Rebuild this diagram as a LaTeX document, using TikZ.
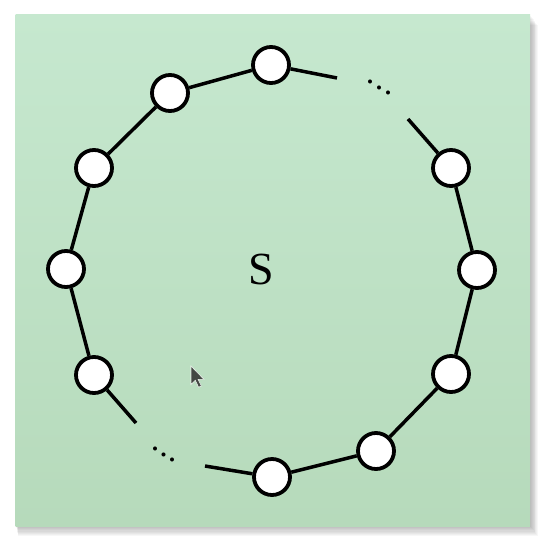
\documentclass[tikz,border=0pt]{standalone}
\usepackage{fontspec}
\setmainfont{Liberation Serif}
\definecolor{papertop}{HTML}{C6E8CF}
\definecolor{paperbot}{HTML}{B6DABB}
\definecolor{cursorgray}{HTML}{2E2E2E}
\begin{document}
\begin{tikzpicture}[x=1pt,y=-1pt,
  vtx/.style={circle, draw=black, fill=white, line width=3.8pt, minimum size=36pt, inner sep=0pt},
  edge/.style={line width=3.5pt, black},
  ell/.style={font=\fontsize{34}{40}\selectfont, inner sep=0pt},
  label/.style={font=\fontsize{46}{52}\selectfont, inner sep=0pt}]
\useasboundingbox (0,0) rectangle (545,543);
\fill[white] (0,0) rectangle (545,543);
% soft shadow of the sheet
\foreach \i in {1,...,9}
  \fill[black, opacity=0.03] (15.6+0.3*\i, 14.6+1.2*\i) rectangle (530+0.9*\i, 526+1.1*\i);
% the sheet
\shade[top color=papertop, bottom color=paperbot] (15.6,14.6) rectangle (530,526);

% vertices around the ring
\node[vtx] (v90)  at (271,65)  {};
\node[vtx] (v120) at (170,93)  {};
\node[vtx] (v150) at (94,168)  {};
\node[vtx] (v180) at (66,269)  {};
\node[vtx] (v210) at (94,375)  {};
\node[vtx] (v270) at (272,477) {};
\node[vtx] (v300) at (376,451) {};
\node[vtx] (v330) at (451,374) {};
\node[vtx] (v0)   at (477,270) {};
\node[vtx] (v30)  at (451,168) {};

% free ends of the broken edges
\coordinate (s60a)  at (337,78);
\coordinate (s60b)  at (408,119);
\coordinate (s240a) at (136,423);
\coordinate (s240b) at (205,466);

% edges
\draw[edge] (v90) -- (v120);
\draw[edge] (v120) -- (v150);
\draw[edge] (v150) -- (v180);
\draw[edge] (v180) -- (v210);
\draw[edge] (v210) -- (s240a);
\draw[edge] (s240b) -- (v270);
\draw[edge] (v270) -- (v300);
\draw[edge] (v300) -- (v330);
\draw[edge] (v330) -- (v0);
\draw[edge] (v0) -- (v30);
\draw[edge] (v30) -- (s60b);
\draw[edge] (s60a) -- (v90);

% ellipses in the gaps (one period per node)
\node[ell] (d60a)  at (370,82)  {.};
\node[ell] (d60b)  at (379,88)  {.};
\node[ell] (d60c)  at (388,93)  {.};
\node[ell] (d240a) at (155,449) {.};
\node[ell] (d240b) at (163.5,455) {.};
\node[ell] (d240c) at (172,460) {.};

% centre label
\node[label] (S) at (261,269) {S};

% mouse pointer
\begin{scope}[shift={(191,366)}, scale=1.08]
  \fill[cursorgray, draw=white, line width=0.6pt, opacity=0.85]
    (0,0) -- (0,17) -- (4,13.2) -- (7,19.6) -- (9.6,18.5) -- (6.6,12.4) -- (12,12.4) -- cycle;
\end{scope}
\end{tikzpicture}
\end{document}
